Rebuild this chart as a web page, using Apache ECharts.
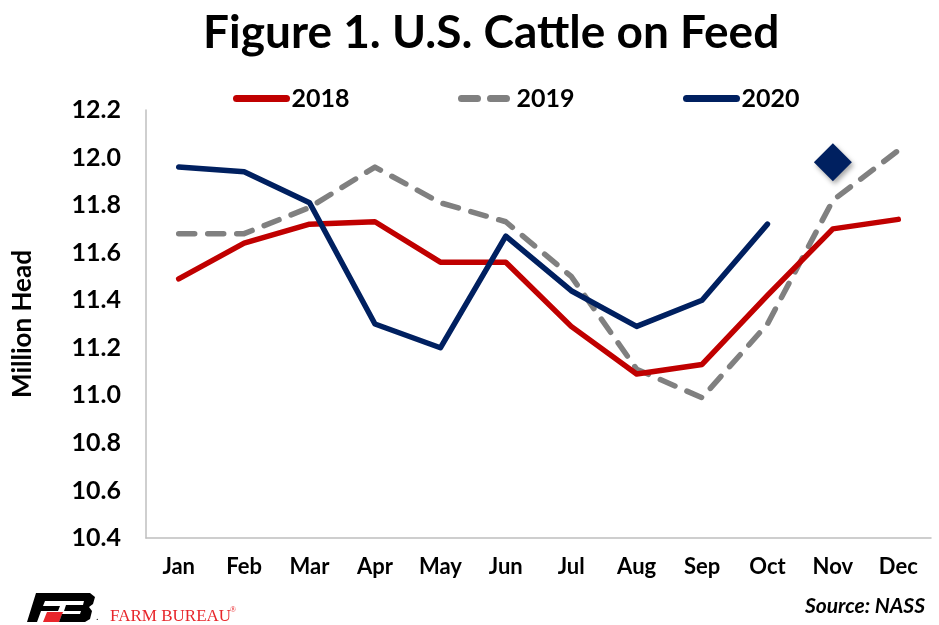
<!DOCTYPE html>
<html>
<head>
<meta charset="utf-8">
<title>U.S. Cattle on Feed</title>
<script src="https://cdn.jsdelivr.net/npm/echarts@6/dist/echarts.min.js"></script>
<style>
html, body { margin: 0; padding: 0; background: #fff; }
#main { width: 939px; height: 625px; }
</style>
</head>
<body>
<div id="main"></div>
<script>
// data (million head)
var months = ['Jan', 'Feb', 'Mar', 'Apr', 'May', 'Jun', 'Jul', 'Aug', 'Sep', 'Oct', 'Nov', 'Dec'];
var cattle2018 = [11.49, 11.64, 11.72, 11.73, 11.56, 11.56, 11.29, 11.09, 11.13, 11.42, 11.70, 11.74];
var cattle2019 = [11.68, 11.68, 11.79, 11.96, 11.81, 11.73, 11.50, 11.11, 10.99, 11.30, 11.82, 12.03];
var cattle2020 = [11.96, 11.94, 11.81, 11.30, 11.20, 11.67, 11.44, 11.29, 11.40, 11.72, null, null];
var estimateMonth = 'Nov';
var estimate2020 = 11.98;
var yTicks = { min: 10.4, max: 12.2, step: 0.2 };

var font = 'Lato, "Open Sans", sans-serif';
var myChart = echarts.init(document.getElementById('main'));

function legendAt(name, left) {
    return {
        data: [name],
        left: left,
        top: 81,
        itemWidth: 50,
        itemHeight: 14,
        itemGap: 6,
        itemStyle: { opacity: 0 },
        lineStyle: { width: 7 },
        textStyle: { fontFamily: font, fontWeight: 'bold', fontSize: 25, color: '#000' }
    };
}

var option = {
    animation: false,
    title: {
        text: 'Figure 1. U.S. Cattle on Feed',
        left: 198,
        top: 5,
        textStyle: { fontFamily: font, fontWeight: 'bold', fontSize: 46, color: '#000' }
    },
    legend: [legendAt('2018', 228), legendAt('2019', 453), legendAt('2020', 678)],
    grid: { left: 146, right: 8, top: 110, bottom: 87, containLabel: false },
    xAxis: {
        type: 'category',
        data: months,
        boundaryGap: true,
        axisLine: { lineStyle: { color: '#BFBFBF', width: 1.5 } },
        axisTick: { show: false },
        axisLabel: { fontFamily: font, fontWeight: 'bold', fontSize: 22, color: '#000', margin: 18 }
    },
    yAxis: {
        type: 'value',
        min: yTicks.min,
        max: yTicks.max,
        interval: yTicks.step,
        name: 'Million Head',
        nameLocation: 'middle',
        nameGap: 110,
        nameTextStyle: { fontFamily: font, fontWeight: 'bold', fontSize: 26, color: '#000' },
        axisLine: { show: true, lineStyle: { color: '#BFBFBF', width: 1.5 } },
        axisTick: { show: false },
        splitLine: { show: false },
        axisLabel: {
            fontFamily: font, fontWeight: 'bold', fontSize: 25, color: '#000', margin: 25,
            formatter: function (v) { return v.toFixed(1); }
        }
    },
    series: [
        {
            name: '2018',
            type: 'line',
            data: cattle2018,
            symbol: 'none',
            lineStyle: { color: '#C00000', width: 5.5, cap: 'round', join: 'round' },
            itemStyle: { color: '#C00000' },
            z: 3
        },
        {
            name: '2019',
            type: 'line',
            data: cattle2019,
            symbol: 'none',
            lineStyle: { color: '#808080', width: 5.5, type: [16, 13], cap: 'round', join: 'round' },
            itemStyle: { color: '#808080' },
            z: 2
        },
        {
            name: '2020',
            type: 'line',
            data: cattle2020,
            symbol: 'none',
            connectNulls: false,
            lineStyle: { color: '#002060', width: 5.5, cap: 'round', join: 'round' },
            itemStyle: { color: '#002060' },
            z: 4
        },
        {
            name: '2020 estimate',
            type: 'scatter',
            data: [[estimateMonth, estimate2020]],
            symbol: 'diamond',
            symbolSize: 38,
            itemStyle: {
                color: '#002060',
                opacity: 1,
                shadowBlur: 5,
                shadowColor: 'rgba(0,0,0,0.35)',
                shadowOffsetX: 2,
                shadowOffsetY: 3
            },
            z: 5
        }
    ],
    graphic: [
        // Farm Bureau logo, rough shapes
        {
            type: 'polygon',
            shape: { points: [[36, 593], [73, 593], [70, 601], [45, 601], [43, 606], [60, 606], [58, 611], [41, 611], [37, 622], [27, 622]] },
            style: { fill: '#000' }
        },
        {
            type: 'polygon',
            shape: { points: [[47, 612], [63, 612], [59, 622], [43, 622]] },
            style: { fill: '#E8262B' }
        },
        {
            type: 'polygon',
            shape: { points: [[67, 593], [90, 593], [95, 597], [93, 604], [89, 607], [92, 611], [90, 619], [85, 622], [59, 622], [62, 614], [80, 614], [81, 611], [64, 611], [66, 605], [83, 605], [84, 601], [65, 601]] },
            style: { fill: '#000' }
        },
        {
            type: 'text',
            left: 96, top: 612,
            style: { text: '.', fontFamily: 'Liberation Serif', fontSize: 10, fill: '#000' }
        },
        {
            type: 'text',
            left: 110, top: 608,
            style: { text: 'FARM BUREAU', fontFamily: '"Liberation Serif", serif', fontSize: 17, fill: '#E8262B' }
        },
        {
            type: 'text',
            left: 230, top: 606,
            style: { text: '®', fontFamily: '"Liberation Serif", serif', fontSize: 8, fill: '#E8262B' }
        },
        {
            type: 'text',
            right: 14, top: 596,
            style: { text: 'Source: NASS', fontFamily: font, fontWeight: 'bold', fontStyle: 'italic', fontSize: 21, fill: '#000' }
        }
    ]
};

myChart.setOption(option);
</script>
</body>
</html>
